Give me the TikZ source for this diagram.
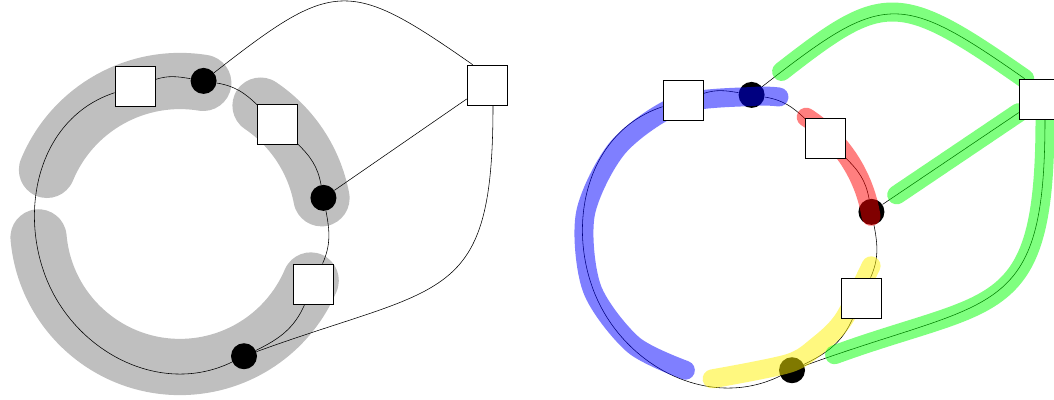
\documentclass[tikz,border=0pt]{standalone}
\usepackage{tikz}
\usetikzlibrary{positioning,arrows.meta}

\pgfdeclarelayer{bg}
\pgfdeclarelayer{hl}
\pgfdeclarelayer{fg}
\pgfsetlayers{bg,main,hl,fg}

\tikzset{
	box/.style={draw, fill=white, minimum size=1cm, inner sep=0pt},
	dot/.style={circle, fill=black, minimum size=0.65cm, inner sep=0pt},
	band/.style={line width=40pt, line cap=round, black!25},
	hl/.style={line width=13.5pt, line cap=round, draw=#1, opacity=0.5}
}

\begin{document}
\begin{tikzpicture}[line width=0.6pt]
	
	\useasboundingbox (0,0) rectangle (26.35,10);
	
	\foreach \p/\ox/\oy/\gx in
	{
		l/4.5/4.375/7.675,
		r/18.2/4.025/7.775
	}
	{
		\begin{scope}[shift={(\ox,\oy)}]
			\begin{pgfonlayer}{fg}
				\node[box] (\p-a) at (108:3.65) {};
				\node[box] (\p-c) at (46:3.5) {};
				\node[box] (\p-e) at (-23.8:3.65) {};
				\node[box] (\p-g) at (\gx,3.5) {};
			\end{pgfonlayer}
			
			\node[dot] (\p-b) at (80.7:3.65) {};
			\node[dot] (\p-d) at (10.7:3.65) {};
			\node[dot] (\p-f) at (-64:3.65) {};
			\coordinate (\p-w) at (200:3.6);
			
			% the ring
			\draw (\p-a) to[out=18,in=170.7] (\p-b)
			to[out=-9.3,in=136] (\p-c)
			to[out=-44,in=100.7] (\p-d)
			to[out=-79.3,in=66.2] (\p-e)
			to[out=-113.8,in=26] (\p-f)
			to[out=-154,in=-70] (\p-w)
			to[out=110,in=198] (\p-a);
			
			% outer edges
			\draw (\p-b) to[out=38,in=145,looseness=1.5] ([xshift=0.15cm]\p-g.north west);
			\draw (\p-d) -- (\p-g);
			\draw (\p-f) to[out=20,in=-90,looseness=1.5] ([xshift=0.15cm]\p-g.south);
		\end{scope}
	}
	
	\begin{pgfonlayer}{bg}
		\begin{scope}[shift={(4.5,4.375)}]
			\draw[band] (157.5:3.6) arc[start angle=157.5, end angle=80.7, radius=3.6];
			\draw[band] (56:3.6) arc[start angle=56, end angle=10.7, radius=3.6];
			\draw[band] (185:3.55) arc[start angle=185, end angle=337, radius=3.55];
		\end{scope}
	\end{pgfonlayer}
	
	\begin{pgfonlayer}{hl}
		\begin{scope}[shift={(18.2,4.025)}]
			\draw[hl=blue] plot[smooth] coordinates
			{(1.275,3.55) (0.629,3.565) (-1.224,3.364) (-2.742,2.301) (-3.565,0.629)
			(-3.402,-1.238) (-2.375,-2.638) (-1.066,-3.281)};
			\draw[hl=red] (57.3:3.62) arc[start angle=57.3, end angle=9, radius=3.62];
			\draw[hl=yellow] plot[smooth] coordinates
			{(3.578,-0.670) (2.883,-2.019) (2.237,-2.666) (1.517,-3.110) (-0.398,-3.497)};
		\end{scope}
		\draw[hl=green, shorten <=0.62cm] (r-b) to[out=38,in=145,looseness=1.5] ([xshift=0.15cm]r-g.north west);
		\draw[hl=green, shorten <=0.43cm] (r-d) -- (r-g);
		\draw[hl=green, shorten <=0.8cm] (r-f) to[out=20,in=-90,looseness=1.5] ([xshift=0.15cm]r-g.south);
	\end{pgfonlayer}
	
\end{tikzpicture}
\end{document}
